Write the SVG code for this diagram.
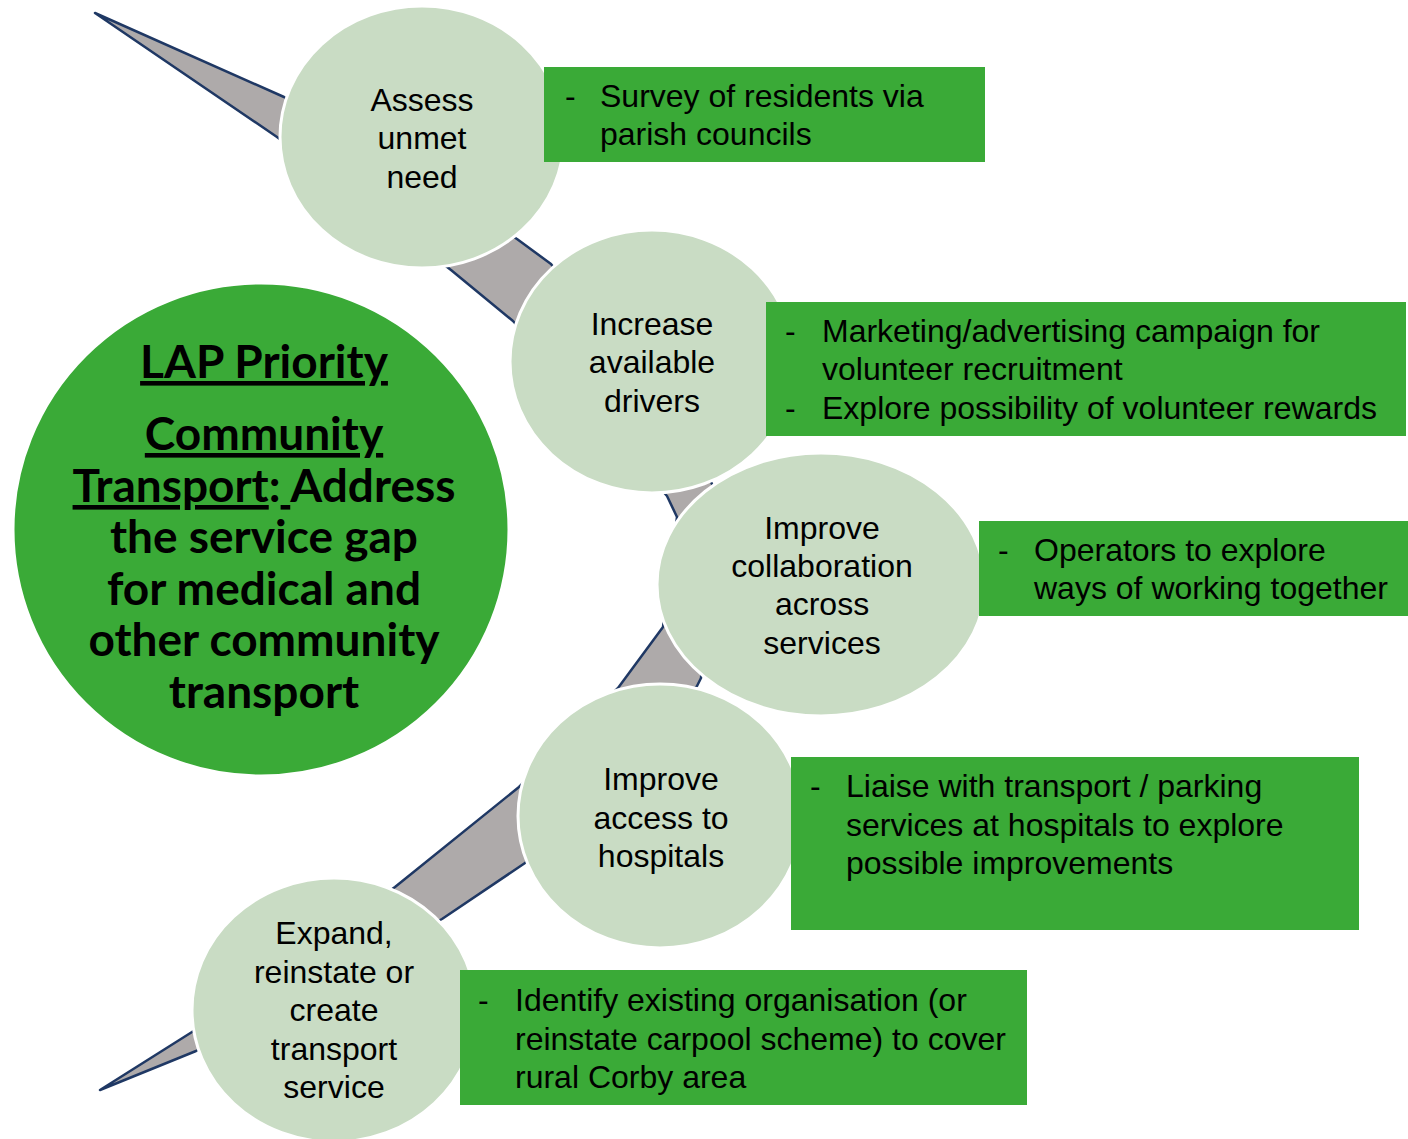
<svg xmlns="http://www.w3.org/2000/svg" width="1408" height="1139" viewBox="0 0 1408 1139">
<style>
.step{fill:#C9DCC4;stroke:#FFFFFF;stroke-width:3}
.hub{fill:#3AAA37;stroke:#FFFFFF;stroke-width:3}
.box{fill:#3AAA37}
.t{font-family:"Liberation Sans",Arial,sans-serif;font-size:32px;fill:#000}
.c{text-anchor:middle}
.h{font-family:Lato,"Open Sans",sans-serif;font-weight:bold;font-size:46px;fill:#000;text-anchor:middle}
.u{text-decoration:underline}
.rib{fill:#AEAAAA;stroke:#1F3864;stroke-width:2.5;stroke-linejoin:round}
</style>
<rect width="1408" height="1139" fill="#FFFFFF"/>
<g id="connectors">
<path class="rib" d="M95,13 L284,97 L517,239 L551,264 L690,440 L720,500 L701,678 L697,686 L525,863 L442,919 L196,1051 L100,1090 L192,1032 L395,887 L519,787 L618,688 L663,627 L677,517 L667,496 L513,321 L451,270 L277,137 Z"/>
</g>
<g id="hub">
<ellipse class="hub" cx="261" cy="529.5" rx="248" ry="246.5"/>
<text class="h" x="264" y="378"><tspan class="u">LAP Priority</tspan></text>
<text class="h" x="264" y="450"><tspan class="u">Community</tspan></text>
<text class="h" x="264" y="502"><tspan class="u">Transport</tspan>:<tspan class="u"> </tspan>Address</text>
<text class="h" x="264" y="553">the service gap</text>
<text class="h" x="264" y="605">for medical and</text>
<text class="h" x="264" y="656">other community</text>
<text class="h" x="264" y="708">transport</text>
</g>
<g id="step1">
<ellipse class="step" cx="422" cy="137" rx="142" ry="131"/>
<text class="t c" x="422" y="111">Assess</text>
<text class="t c" x="422" y="149">unmet</text>
<text class="t c" x="422" y="188">need</text>
</g>
<g id="step2">
<ellipse class="step" cx="652" cy="361.5" rx="142" ry="131.5"/>
<text class="t c" x="652" y="335">Increase</text>
<text class="t c" x="652" y="373">available</text>
<text class="t c" x="652" y="412">drivers</text>
</g>
<g id="step3">
<ellipse class="step" cx="821" cy="584.5" rx="164" ry="131.5"/>
<text class="t c" x="822" y="539">Improve</text>
<text class="t c" x="822" y="577">collaboration</text>
<text class="t c" x="822" y="615">across</text>
<text class="t c" x="822" y="654">services</text>
</g>
<g id="step4">
<ellipse class="step" cx="660" cy="816" rx="142" ry="132"/>
<text class="t c" x="661" y="790">Improve</text>
<text class="t c" x="661" y="829">access to</text>
<text class="t c" x="661" y="867">hospitals</text>
</g>
<g id="step5">
<ellipse class="step" cx="334" cy="1010" rx="142" ry="132"/>
<text class="t c" x="334" y="944">Expand,</text>
<text class="t c" x="334" y="983">reinstate or</text>
<text class="t c" x="334" y="1021">create</text>
<text class="t c" x="334" y="1060">transport</text>
<text class="t c" x="334" y="1098">service</text>
</g>
<g id="box1">
<rect class="box" x="544" y="67" width="441" height="95"/>
<text class="t" x="565" y="107">-</text>
<text class="t" x="600" y="107">Survey of residents via</text>
<text class="t" x="600" y="145">parish councils</text>
</g>
<g id="box2">
<rect class="box" x="766" y="302" width="640" height="134"/>
<text class="t" x="785" y="342">-</text>
<text class="t" x="822" y="342">Marketing/advertising campaign for</text>
<text class="t" x="822" y="380">volunteer recruitment</text>
<text class="t" x="785" y="419">-</text>
<text class="t" x="822" y="419">Explore possibility of volunteer rewards</text>
</g>
<g id="box3">
<rect class="box" x="979" y="521" width="429" height="95"/>
<text class="t" x="998" y="561">-</text>
<text class="t" x="1034" y="561">Operators to explore</text>
<text class="t" x="1034" y="599">ways of working together</text>
</g>
<g id="box4">
<rect class="box" x="791" y="757" width="568" height="173"/>
<text class="t" x="810" y="797">-</text>
<text class="t" x="846" y="797">Liaise with transport / parking</text>
<text class="t" x="846" y="836">services at hospitals to explore</text>
<text class="t" x="846" y="874">possible improvements</text>
</g>
<g id="box5">
<rect class="box" x="460" y="970" width="567" height="135"/>
<text class="t" x="478" y="1011">-</text>
<text class="t" x="515" y="1011">Identify existing organisation (or</text>
<text class="t" x="515" y="1050">reinstate carpool scheme) to cover</text>
<text class="t" x="515" y="1088">rural Corby area</text>
</g>
</svg>
